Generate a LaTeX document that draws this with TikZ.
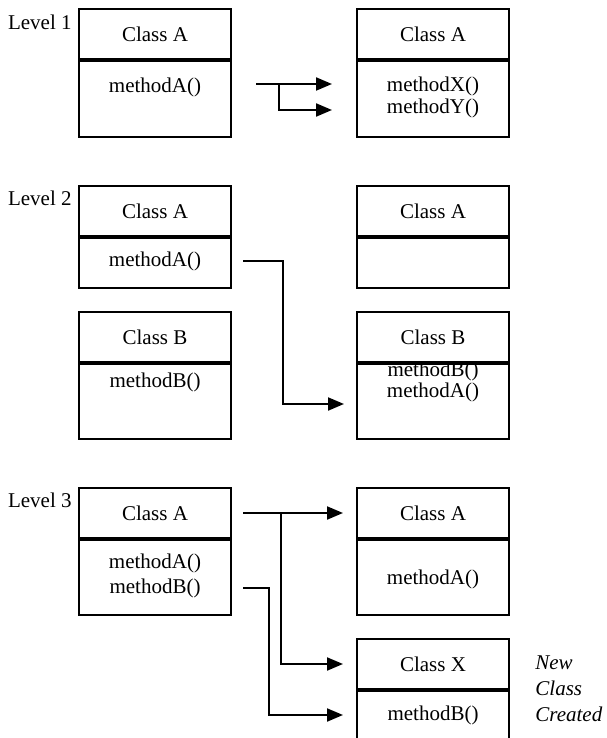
\documentclass[tikz,border=0pt]{standalone}
\usepackage{fontspec}
\setmainfont{Liberation Serif}
\usepackage{tikz}
\usetikzlibrary{arrows.meta,calc}

\begin{document}
\begin{tikzpicture}[x=0.5pt, y=-0.5pt, font=\fontsize{10.5}{12}\selectfont,
    every node/.style={align=center},
    classhead/.style={draw, line width=1pt, minimum width=76pt, minimum height=25pt, inner sep=0pt},
    classbody/.style={draw, line width=1pt, minimum width=76pt, anchor=north, inner sep=0pt},
    arr/.style={-{Triangle[length=8pt,width=6.5pt]}, line width=1pt}]
  \useasboundingbox (0,0) rectangle (606,738);
  % class boxes: header + body
  \foreach \n/\x/\y/\t/\h in {
    l1a/155/34/Class A/38pt,
    l1r/433/34/Class A/38pt,
    l2a/155/211/Class A/25pt,
    l2b/155/337/Class B/37.5pt,
    l2r/433/211/Class A/25pt,
    l2rb/433/337/Class B/37.5pt,
    l3a/155/513/Class A/37.5pt,
    l3r/433/513/Class A/37.5pt,
    l3x/433/664/Class X/37.5pt}
  {
    \node[classhead] (\n) at (\x,\y) {\t};
    \node[classbody, minimum height=\h] (\n-b) at (\n.south) {};
  }
  % level labels
  \foreach \i/\y in {1/22, 2/198, 3/500}
    \node[anchor=east, inner sep=0pt] (lev\i) at (72,\y) {Level \i};
  % method lists
  \node (m1a) at (155,87) {methodA()};
  \node[font=\fontsize{10.5}{11}\selectfont] (m1r) at (433,97) {methodX()\\methodY()};
  \node (m2a) at (155,261) {methodA()};
  \node (m2b) at (155,382) {methodB()};
  \node[font=\fontsize{10.5}{9.5}\selectfont] (m2rb) at (433,382) {methodB()\\methodA()};
  \node[font=\fontsize{10.5}{12.5}\selectfont] (m3a) at (155,575.5) {methodA()\\methodB()};
  \node (m3r) at (433,579) {methodA()};
  \node (m3x) at (433,715) {methodB()};
  \node[anchor=west, align=left, inner sep=0pt, font=\fontsize{10.5}{13}\selectfont\itshape] (note) at (535,689) {New\\Class\\Created};
  % level 1 arrows
  \coordinate (s1) at (256,84);
  \coordinate (j1) at (279,84);
  \coordinate (t1) at (332,84);
  \coordinate (t2) at (332,110);
  \draw[arr] (s1) -- (t1);
  \draw[arr] (j1) |- (t2);
  % level 2 arrow
  \coordinate (s2) at (243,261);
  \coordinate (k2) at (283,404);
  \coordinate (t3) at (344,404);
  \draw[arr] (s2) -| (k2) -- (t3);
  % level 3 arrows
  \coordinate (s3) at (243,513);
  \coordinate (j3) at (281,513);
  \coordinate (t4) at (343,513);
  \coordinate (t5) at (343,664);
  \coordinate (s4) at (243,588);
  \coordinate (k4) at (269,715);
  \coordinate (t6) at (343,715);
  \draw[arr] (s3) -- (t4);
  \draw[arr] (j3) |- (t5);
  \draw[arr] (s4) -| (k4) -- (t6);
\end{tikzpicture}
\end{document}
